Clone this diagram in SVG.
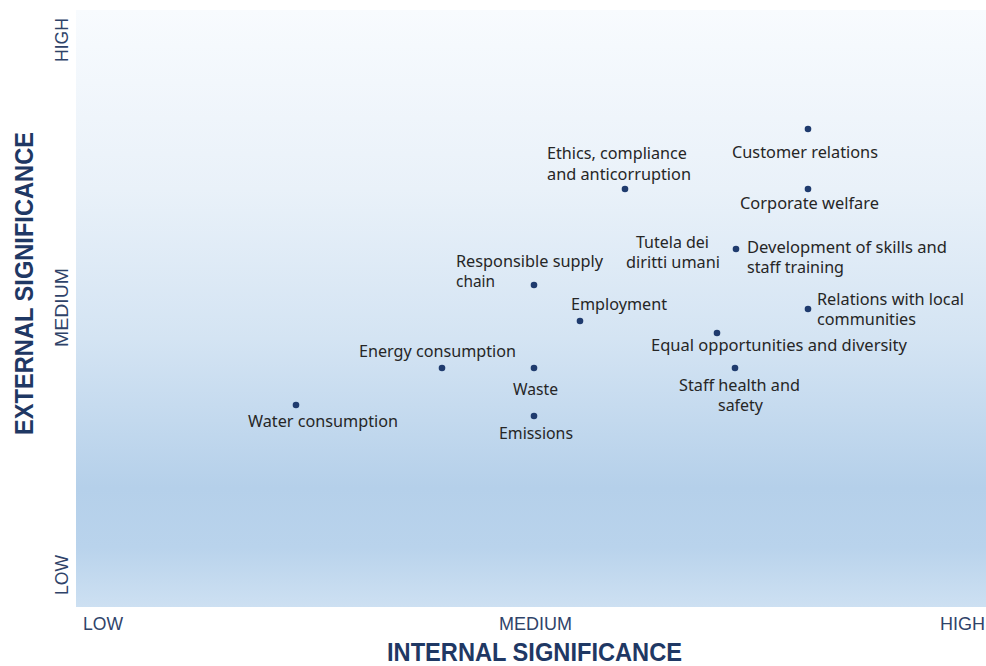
<svg xmlns="http://www.w3.org/2000/svg" width="986" height="666" viewBox="0 0 986 666">
  <defs>
    <linearGradient id="bg" x1="0" y1="0" x2="0" y2="1">
      <stop offset="0" stop-color="#f8fbfe"/>
      <stop offset="0.3" stop-color="#e9f1f9"/>
      <stop offset="0.55" stop-color="#d4e4f3"/>
      <stop offset="0.8" stop-color="#b5d0ea"/>
      <stop offset="0.9" stop-color="#b9d3ec"/>
      <stop offset="1" stop-color="#cde0f2"/>
    </linearGradient>
  </defs>
  <style>
    .dot { fill: #1f3b6e; }
    .lbl { font-family: "Noto Sans", "DejaVu Sans", sans-serif; font-size: 16px; fill: #262626; }
    .tick { font-family: "Liberation Sans", Arial, sans-serif; font-size: 18px; fill: #2f4369; }
    .title { font-family: "Liberation Sans", Arial, sans-serif; font-size: 25px; font-weight: bold; fill: #1f3864; }
  </style>
  <rect x="0" y="0" width="986" height="666" fill="#ffffff"/>
  <rect id="plot" x="76" y="10" width="910" height="597" fill="url(#bg)"/>

  <g id="axes">
    <text class="tick" x="83" y="630" textLength="40" lengthAdjust="spacingAndGlyphs">LOW</text>
    <text class="tick" x="499" y="630" textLength="73" lengthAdjust="spacingAndGlyphs">MEDIUM</text>
    <text class="tick" x="940" y="630" textLength="45" lengthAdjust="spacingAndGlyphs">HIGH</text>
    <text class="tick" transform="translate(68,595) rotate(-90)" x="0" y="0" textLength="40" lengthAdjust="spacingAndGlyphs">LOW</text>
    <text class="tick" transform="translate(68,347) rotate(-90)" x="0" y="0" textLength="79" lengthAdjust="spacingAndGlyphs">MEDIUM</text>
    <text class="tick" transform="translate(68,62) rotate(-90)" x="0" y="0" textLength="44" lengthAdjust="spacingAndGlyphs">HIGH</text>
    <text class="title" x="387" y="661" textLength="295" lengthAdjust="spacingAndGlyphs">INTERNAL SIGNIFICANCE</text>
    <text class="title" transform="translate(33,435) rotate(-90)" x="0" y="0" textLength="303" lengthAdjust="spacingAndGlyphs">EXTERNAL SIGNIFICANCE</text>
  </g>

  <g id="customer-relations">
    <circle class="dot" cx="808" cy="129" r="3.3"/>
    <text class="lbl" x="732" y="158" textLength="146" lengthAdjust="spacingAndGlyphs">Customer relations</text>
  </g>
  <g id="corporate-welfare">
    <circle class="dot" cx="808" cy="189" r="3.3"/>
    <text class="lbl" x="740" y="209" textLength="139" lengthAdjust="spacingAndGlyphs">Corporate welfare</text>
  </g>
  <g id="ethics">
    <circle class="dot" cx="625" cy="189" r="3.3"/>
    <text class="lbl" x="547" y="159" textLength="140" lengthAdjust="spacingAndGlyphs">Ethics, compliance</text>
    <text class="lbl" x="547" y="180" textLength="144" lengthAdjust="spacingAndGlyphs">and anticorruption</text>
  </g>
  <g id="tutela-diritti-umani">
    <circle class="dot" cx="736" cy="249" r="3.3"/>
    <text class="lbl" x="636" y="248" textLength="73" lengthAdjust="spacingAndGlyphs">Tutela dei</text>
    <text class="lbl" x="626" y="268" textLength="94" lengthAdjust="spacingAndGlyphs">diritti umani</text>
  </g>
  <g id="development-skills">
    <text class="lbl" x="747" y="253" textLength="200" lengthAdjust="spacingAndGlyphs">Development of skills and</text>
    <text class="lbl" x="747" y="273" textLength="97" lengthAdjust="spacingAndGlyphs">staff training</text>
  </g>
  <g id="responsible-supply-chain">
    <circle class="dot" cx="534" cy="285" r="3.3"/>
    <text class="lbl" x="456" y="267" textLength="147" lengthAdjust="spacingAndGlyphs">Responsible supply</text>
    <text class="lbl" x="456" y="287" textLength="39" lengthAdjust="spacingAndGlyphs">chain</text>
  </g>
  <g id="employment">
    <circle class="dot" cx="580" cy="321" r="3.3"/>
    <text class="lbl" x="571" y="310" textLength="96" lengthAdjust="spacingAndGlyphs">Employment</text>
  </g>
  <g id="relations-local-communities">
    <circle class="dot" cx="808" cy="309" r="3.3"/>
    <text class="lbl" x="817" y="305" textLength="147" lengthAdjust="spacingAndGlyphs">Relations with local</text>
    <text class="lbl" x="817" y="325" textLength="99" lengthAdjust="spacingAndGlyphs">communities</text>
  </g>
  <g id="equal-opportunities">
    <circle class="dot" cx="717" cy="333" r="3.3"/>
    <text class="lbl" x="651" y="351" textLength="256" lengthAdjust="spacingAndGlyphs">Equal opportunities and diversity</text>
  </g>
  <g id="staff-health-safety">
    <circle class="dot" cx="735" cy="368" r="3.3"/>
    <text class="lbl" x="679" y="391" textLength="121" lengthAdjust="spacingAndGlyphs">Staff health and</text>
    <text class="lbl" x="718" y="411" textLength="45" lengthAdjust="spacingAndGlyphs">safety</text>
  </g>
  <g id="energy-consumption">
    <circle class="dot" cx="442" cy="368" r="3.3"/>
    <text class="lbl" x="359" y="357" textLength="157" lengthAdjust="spacingAndGlyphs">Energy consumption</text>
  </g>
  <g id="waste">
    <circle class="dot" cx="534" cy="368" r="3.3"/>
    <text class="lbl" x="513" y="395" textLength="45" lengthAdjust="spacingAndGlyphs">Waste</text>
  </g>
  <g id="emissions">
    <circle class="dot" cx="534" cy="416" r="3.3"/>
    <text class="lbl" x="499" y="439" textLength="74" lengthAdjust="spacingAndGlyphs">Emissions</text>
  </g>
  <g id="water-consumption">
    <circle class="dot" cx="296" cy="405" r="3.3"/>
    <text class="lbl" x="248" y="427" textLength="150" lengthAdjust="spacingAndGlyphs">Water consumption</text>
  </g>
</svg>
